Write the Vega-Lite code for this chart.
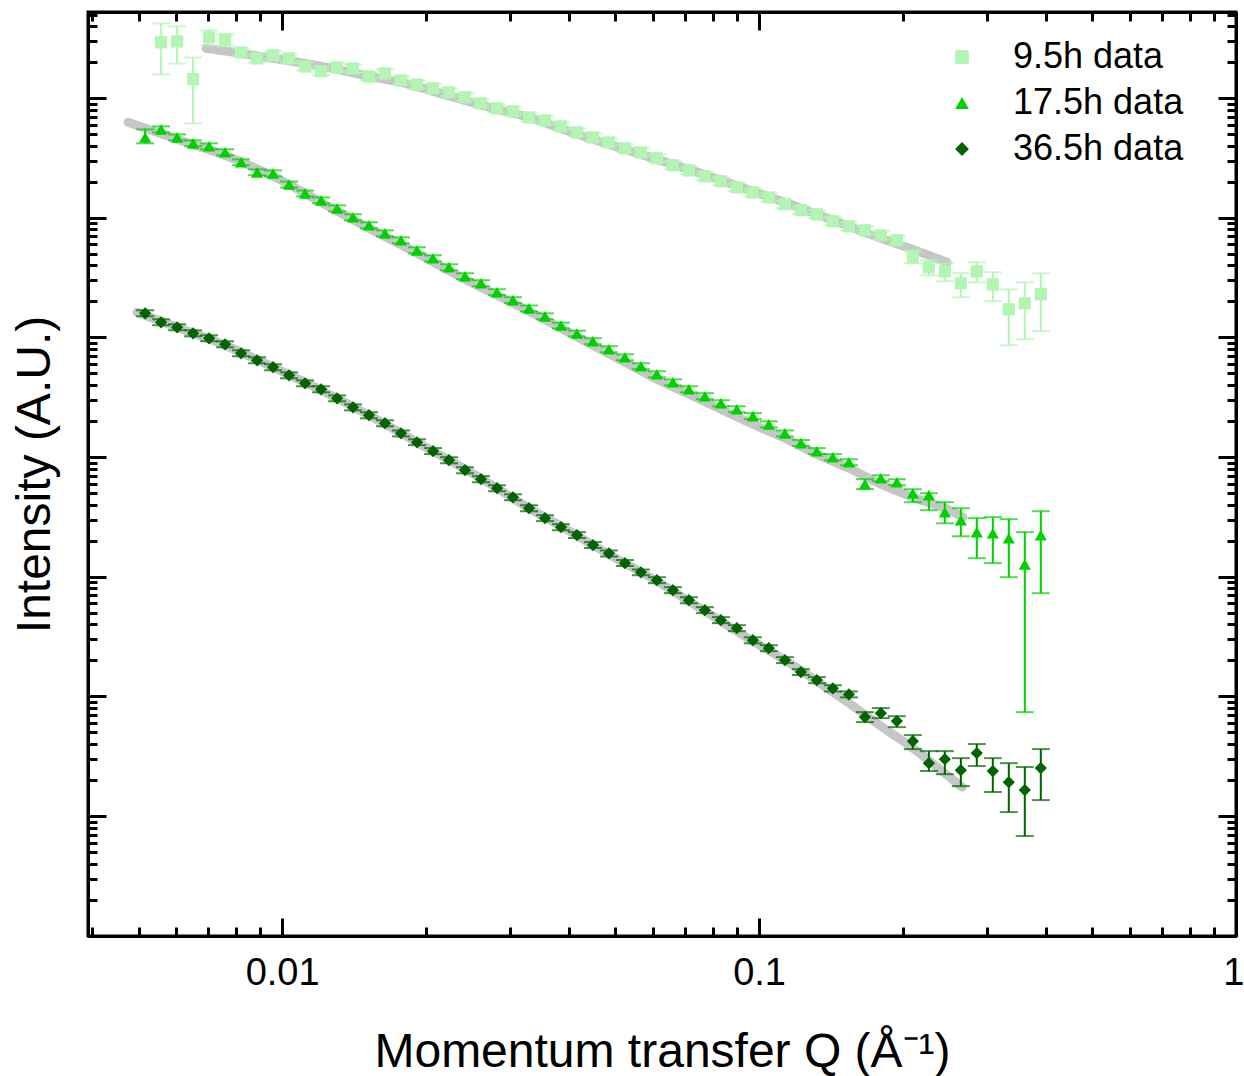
{
"$schema": "https://vega.github.io/schema/vega-lite/v6.json",
"width": 1148, "height": 924,
"autosize": {"type": "none"},
"padding": {"left": 88, "top": 12, "right": 8, "bottom": 140},
"background": "white",
"config": {
  "view": {"stroke": "black", "strokeWidth": 3},
  "font": "Liberation Sans",
  "axis": {"domainColor": "black", "domainWidth": 3, "tickColor": "black", "tickWidth": 3, "grid": false, "labelFont": "Liberation Sans", "titleFont": "Liberation Sans", "labelColor": "black", "titleColor": "black", "titleFontWeight": "normal"}
},
"datasets": {
"fit": [
{"s":"9.5h data","q":0.006929,"v":2606000},{"s":"9.5h data","q":0.008202,"v":2367000},{"s":"9.5h data","q":0.009572,"v":2150000},{"s":"9.5h data","q":0.01117,"v":1953000},{"s":"9.5h data","q":0.01304,"v":1740000},{"s":"9.5h data","q":0.01521,"v":1521000},{"s":"9.5h data","q":0.01775,"v":1355000},{"s":"9.5h data","q":0.02072,"v":1140000},{"s":"9.5h data","q":0.02418,"v":958500},{"s":"9.5h data","q":0.02822,"v":806200},{"s":"9.5h data","q":0.03293,"v":691100},{"s":"9.5h data","q":0.03843,"v":559000},{"s":"9.5h data","q":0.04484,"v":453000},{"s":"9.5h data","q":0.05233,"v":374000},{"s":"9.5h data","q":0.06107,"v":308000},{"s":"9.5h data","q":0.07127,"v":254000},{"s":"9.5h data","q":0.08317,"v":206000},{"s":"9.5h data","q":0.09706,"v":166500},{"s":"9.5h data","q":0.1133,"v":134700},{"s":"9.5h data","q":0.1322,"v":107000},{"s":"9.5h data","q":0.1543,"v":84900},{"s":"9.5h data","q":0.18,"v":67400},{"s":"9.5h data","q":0.2101,"v":54500},{"s":"9.5h data","q":0.2477,"v":42480},
{"s":"17.5h data","q":0.004753,"v":628000},{"s":"17.5h data","q":0.006023,"v":452700},{"s":"17.5h data","q":0.007593,"v":332900},{"s":"17.5h data","q":0.009572,"v":222200},{"s":"17.5h data","q":0.01207,"v":134700},{"s":"17.5h data","q":0.01521,"v":81720},{"s":"17.5h data","q":0.01918,"v":50520},{"s":"17.5h data","q":0.02418,"v":30640},{"s":"17.5h data","q":0.02822,"v":22510},{"s":"17.5h data","q":0.03293,"v":16560},{"s":"17.5h data","q":0.03843,"v":11930},{"s":"17.5h data","q":0.04484,"v":8606},{"s":"17.5h data","q":0.05233,"v":6205},{"s":"17.5h data","q":0.06107,"v":4474},{"s":"17.5h data","q":0.07127,"v":3354},{"s":"17.5h data","q":0.08317,"v":2513},{"s":"17.5h data","q":0.09706,"v":1883},{"s":"17.5h data","q":0.1133,"v":1439},{"s":"17.5h data","q":0.1322,"v":1057},{"s":"17.5h data","q":0.1543,"v":807.7},{"s":"17.5h data","q":0.18,"v":593.7},{"s":"17.5h data","q":0.2101,"v":462.4},{"s":"17.5h data","q":0.2452,"v":374.3},{"s":"17.5h data","q":0.2677,"v":314.7},
{"s":"36.5h data","q":0.004966,"v":16240},{"s":"36.5h data","q":0.006023,"v":12170},{"s":"36.5h data","q":0.007593,"v":8606},{"s":"36.5h data","q":0.009572,"v":5636},{"s":"36.5h data","q":0.01207,"v":3622},{"s":"36.5h data","q":0.01521,"v":2239},{"s":"36.5h data","q":0.01918,"v":1332},{"s":"36.5h data","q":0.02418,"v":792.2},{"s":"36.5h data","q":0.02822,"v":549.9},{"s":"36.5h data","q":0.03293,"v":374.3},{"s":"36.5h data","q":0.03843,"v":264.7},{"s":"36.5h data","q":0.04484,"v":183.7},{"s":"36.5h data","q":0.05233,"v":129.9},{"s":"36.5h data","q":0.06107,"v":91.89},{"s":"36.5h data","q":0.07127,"v":62.54},{"s":"36.5h data","q":0.08317,"v":42.57},{"s":"36.5h data","q":0.09706,"v":28.97},{"s":"36.5h data","q":0.1133,"v":20.11},{"s":"36.5h data","q":0.1322,"v":13.42},{"s":"36.5h data","q":0.1543,"v":8.79},{"s":"36.5h data","q":0.18,"v":5.648},{"s":"36.5h data","q":0.2101,"v":3.699},{"s":"36.5h data","q":0.236,"v":2.567},{"s":"36.5h data","q":0.2664,"v":1.747}
],
"pts": [
{"s":"9.5h data","q":0.005575,"v":2930000,"lo":1580000,"hi":4220000},
{"s":"9.5h data","q":0.006023,"v":2980000,"lo":1950000,"hi":3980000},
{"s":"9.5h data","q":0.006506,"v":1440000,"lo":616000,"hi":2190000},
{"s":"9.5h data","q":0.007029,"v":3220000,"lo":2760000,"hi":3690000},
{"s":"9.5h data","q":0.007593,"v":3100000,"lo":2710000,"hi":3410000},
{"s":"9.5h data","q":0.008202,"v":2410000,"lo":2230000,"hi":2600000},
{"s":"9.5h data","q":0.008861,"v":2150000,"lo":1990000,"hi":2320000},
{"s":"9.5h data","q":0.009572,"v":2280000,"lo":2110000,"hi":2460000},
{"s":"9.5h data","q":0.01034,"v":2150000,"lo":1990000,"hi":2320000},
{"s":"9.5h data","q":0.01117,"v":1840000,"lo":1700000,"hi":1990000},
{"s":"9.5h data","q":0.01207,"v":1680000,"lo":1560000,"hi":1810000},
{"s":"9.5h data","q":0.01304,"v":1810000,"lo":1680000,"hi":1950000},
{"s":"9.5h data","q":0.01408,"v":1770000,"lo":1640000,"hi":1910000},
{"s":"9.5h data","q":0.01521,"v":1520000,"lo":1410000,"hi":1640000},
{"s":"9.5h data","q":0.01643,"v":1610000,"lo":1490000,"hi":1740000},
{"s":"9.5h data","q":0.01775,"v":1410000,"lo":1310000,"hi":1520000},
{"s":"9.5h data","q":0.01918,"v":1300000,"lo":1200000,"hi":1400000},
{"s":"9.5h data","q":0.02072,"v":1210000,"lo":1120000,"hi":1310000},
{"s":"9.5h data","q":0.02238,"v":1120000,"lo":1040000,"hi":1210000},
{"s":"9.5h data","q":0.02418,"v":1020000,"lo":944000,"hi":1100000},
{"s":"9.5h data","q":0.02612,"v":905000,"lo":838000,"hi":977000},
{"s":"9.5h data","q":0.02822,"v":822000,"lo":761000,"hi":888000},
{"s":"9.5h data","q":0.03048,"v":776000,"lo":719000,"hi":838000},
{"s":"9.5h data","q":0.03293,"v":691000,"lo":640000,"hi":746000},
{"s":"9.5h data","q":0.03557,"v":652000,"lo":604000,"hi":704000},
{"s":"9.5h data","q":0.03843,"v":581000,"lo":538000,"hi":627000},
{"s":"9.5h data","q":0.04151,"v":518000,"lo":480000,"hi":559000},
{"s":"9.5h data","q":0.04484,"v":470000,"lo":435000,"hi":508000},
{"s":"9.5h data","q":0.04844,"v":427000,"lo":395000,"hi":461000},
{"s":"9.5h data","q":0.05233,"v":381000,"lo":353000,"hi":411000},
{"s":"9.5h data","q":0.05653,"v":353000,"lo":327000,"hi":381000},
{"s":"9.5h data","q":0.06107,"v":314000,"lo":291000,"hi":339000},
{"s":"9.5h data","q":0.06597,"v":275000,"lo":255000,"hi":297000},
{"s":"9.5h data","q":0.07127,"v":249000,"lo":231000,"hi":269000},
{"s":"9.5h data","q":0.07699,"v":222000,"lo":206000,"hi":240000},
{"s":"9.5h data","q":0.08317,"v":202000,"lo":187000,"hi":218000},
{"s":"9.5h data","q":0.08984,"v":180000,"lo":167000,"hi":194000},
{"s":"9.5h data","q":0.09706,"v":163000,"lo":151000,"hi":176000},
{"s":"9.5h data","q":0.1048,"v":148000,"lo":137000,"hi":160000},
{"s":"9.5h data","q":0.1133,"v":130000,"lo":120000,"hi":140000},
{"s":"9.5h data","q":0.1224,"v":116000,"lo":107000,"hi":125000},
{"s":"9.5h data","q":0.1322,"v":107000,"lo":99100,"hi":116000},
{"s":"9.5h data","q":0.1428,"v":93500,"lo":86600,"hi":101000},
{"s":"9.5h data","q":0.1543,"v":84900,"lo":78600,"hi":91700},
{"s":"9.5h data","q":0.1667,"v":78600,"lo":72800,"hi":84900},
{"s":"9.5h data","q":0.18,"v":71400,"lo":66100,"hi":77100},
{"s":"9.5h data","q":0.1945,"v":64900,"lo":60100,"hi":70100},
{"s":"9.5h data","q":0.2101,"v":46800,"lo":41700,"hi":53500},
{"s":"9.5h data","q":0.227,"v":38600,"lo":33100,"hi":44200},
{"s":"9.5h data","q":0.2452,"v":35700,"lo":29500,"hi":41700},
{"s":"9.5h data","q":0.2649,"v":28400,"lo":21700,"hi":34400},
{"s":"9.5h data","q":0.2861,"v":35700,"lo":28900,"hi":42500},
{"s":"9.5h data","q":0.3091,"v":27800,"lo":20100,"hi":35100},
{"s":"9.5h data","q":0.3339,"v":17200,"lo":8610,"hi":25300},
{"s":"9.5h data","q":0.3607,"v":19300,"lo":9660,"hi":28900},
{"s":"9.5h data","q":0.3897,"v":23000,"lo":11300,"hi":34400},
{"s":"17.5h data","q":0.005161,"v":470000,"lo":419000,"hi":549000},
{"s":"17.5h data","q":0.005575,"v":549000,"lo":518000,"hi":581000},
{"s":"17.5h data","q":0.006023,"v":470000,"lo":444000,"hi":498000},
{"s":"17.5h data","q":0.006506,"v":419000,"lo":396000,"hi":444000},
{"s":"17.5h data","q":0.007029,"v":396000,"lo":374000,"hi":419000},
{"s":"17.5h data","q":0.007593,"v":353000,"lo":333000,"hi":374000},
{"s":"17.5h data","q":0.008202,"v":291000,"lo":275000,"hi":308000},
{"s":"17.5h data","q":0.008861,"v":240000,"lo":227000,"hi":254000},
{"s":"17.5h data","q":0.009572,"v":235000,"lo":222000,"hi":249000},
{"s":"17.5h data","q":0.01034,"v":190000,"lo":179000,"hi":201000},
{"s":"17.5h data","q":0.01117,"v":160000,"lo":151000,"hi":169000},
{"s":"17.5h data","q":0.01207,"v":140000,"lo":132000,"hi":148000},
{"s":"17.5h data","q":0.01304,"v":120000,"lo":113000,"hi":127000},
{"s":"17.5h data","q":0.01408,"v":101000,"lo":95300,"hi":107000},
{"s":"17.5h data","q":0.01521,"v":86600,"lo":81700,"hi":91700},
{"s":"17.5h data","q":0.01643,"v":74200,"lo":70000,"hi":78600},
{"s":"17.5h data","q":0.01775,"v":64900,"lo":61300,"hi":68700},
{"s":"17.5h data","q":0.01918,"v":53500,"lo":50500,"hi":56700},
{"s":"17.5h data","q":0.02072,"v":45900,"lo":43300,"hi":48600},
{"s":"17.5h data","q":0.02238,"v":38600,"lo":36400,"hi":40900},
{"s":"17.5h data","q":0.02418,"v":32500,"lo":30700,"hi":34400},
{"s":"17.5h data","q":0.02612,"v":28400,"lo":26800,"hi":30100},
{"s":"17.5h data","q":0.02822,"v":23900,"lo":22600,"hi":25300},
{"s":"17.5h data","q":0.03048,"v":20500,"lo":19400,"hi":21700},
{"s":"17.5h data","q":0.03293,"v":17500,"lo":16500,"hi":18500},
{"s":"17.5h data","q":0.03557,"v":15000,"lo":14200,"hi":15900},
{"s":"17.5h data","q":0.03843,"v":12600,"lo":11900,"hi":13300},
{"s":"17.5h data","q":0.04151,"v":10800,"lo":10200,"hi":11400},
{"s":"17.5h data","q":0.04484,"v":9300,"lo":8780,"hi":9850},
{"s":"17.5h data","q":0.04844,"v":7970,"lo":7520,"hi":8440},
{"s":"17.5h data","q":0.05233,"v":6830,"lo":6450,"hi":7230},
{"s":"17.5h data","q":0.05653,"v":5750,"lo":5430,"hi":6090},
{"s":"17.5h data","q":0.06107,"v":4930,"lo":4650,"hi":5220},
{"s":"17.5h data","q":0.06597,"v":4220,"lo":3980,"hi":4470},
{"s":"17.5h data","q":0.07127,"v":3690,"lo":3480,"hi":3910},
{"s":"17.5h data","q":0.07699,"v":3230,"lo":3050,"hi":3420},
{"s":"17.5h data","q":0.08317,"v":2820,"lo":2660,"hi":2990},
{"s":"17.5h data","q":0.08984,"v":2510,"lo":2370,"hi":2660},
{"s":"17.5h data","q":0.09706,"v":2200,"lo":2080,"hi":2330},
{"s":"17.5h data","q":0.1048,"v":1880,"lo":1770,"hi":1990},
{"s":"17.5h data","q":0.1133,"v":1580,"lo":1490,"hi":1670},
{"s":"17.5h data","q":0.1224,"v":1310,"lo":1240,"hi":1390},
{"s":"17.5h data","q":0.1322,"v":1120,"lo":1060,"hi":1190},
{"s":"17.5h data","q":0.1428,"v":998,"lo":942,"hi":1060},
{"s":"17.5h data","q":0.1543,"v":907,"lo":856,"hi":960},
{"s":"17.5h data","q":0.1667,"v":594,"lo":540,"hi":654},
{"s":"17.5h data","q":0.18,"v":666,"lo":629,"hi":705},
{"s":"17.5h data","q":0.1945,"v":617,"lo":582,"hi":653},
{"s":"17.5h data","q":0.2101,"v":499,"lo":420,"hi":539},
{"s":"17.5h data","q":0.227,"v":481,"lo":360,"hi":499},
{"s":"17.5h data","q":0.2452,"v":347,"lo":280,"hi":420},
{"s":"17.5h data","q":0.2649,"v":297,"lo":218,"hi":374},
{"s":"17.5h data","q":0.2861,"v":236,"lo":143,"hi":309},
{"s":"17.5h data","q":0.3091,"v":231,"lo":130,"hi":315},
{"s":"17.5h data","q":0.3339,"v":210,"lo":99.2,"hi":303},
{"s":"17.5h data","q":0.3607,"v":127,"lo":7.39,"hi":236},
{"s":"17.5h data","q":0.3897,"v":223,"lo":72.9,"hi":353},
{"s":"36.5h data","q":0.005161,"v":15930,"lo":15040,"hi":16870},
{"s":"36.5h data","q":0.005575,"v":13400,"lo":12650,"hi":14190},
{"s":"36.5h data","q":0.006023,"v":12170,"lo":11490,"hi":12890},
{"s":"36.5h data","q":0.006506,"v":10840,"lo":10230,"hi":11480},
{"s":"36.5h data","q":0.007029,"v":9850,"lo":9300,"hi":10430},
{"s":"36.5h data","q":0.007593,"v":8770,"lo":8280,"hi":9290},
{"s":"36.5h data","q":0.008202,"v":7380,"lo":6970,"hi":7820},
{"s":"36.5h data","q":0.008861,"v":6450,"lo":6090,"hi":6830},
{"s":"36.5h data","q":0.009572,"v":5640,"lo":5320,"hi":5970},
{"s":"36.5h data","q":0.01034,"v":4830,"lo":4560,"hi":5110},
{"s":"36.5h data","q":0.01117,"v":4140,"lo":3910,"hi":4380},
{"s":"36.5h data","q":0.01207,"v":3690,"lo":3480,"hi":3910},
{"s":"36.5h data","q":0.01304,"v":3100,"lo":2930,"hi":3280},
{"s":"36.5h data","q":0.01408,"v":2610,"lo":2460,"hi":2760},
{"s":"36.5h data","q":0.01521,"v":2240,"lo":2110,"hi":2370},
{"s":"36.5h data","q":0.01643,"v":1920,"lo":1810,"hi":2030},
{"s":"36.5h data","q":0.01775,"v":1580,"lo":1490,"hi":1670},
{"s":"36.5h data","q":0.01918,"v":1330,"lo":1260,"hi":1410},
{"s":"36.5h data","q":0.02072,"v":1120,"lo":1060,"hi":1190},
{"s":"36.5h data","q":0.02238,"v":942,"lo":889,"hi":998},
{"s":"36.5h data","q":0.02418,"v":777,"lo":733,"hi":823},
{"s":"36.5h data","q":0.02612,"v":654,"lo":617,"hi":693},
{"s":"36.5h data","q":0.02822,"v":550,"lo":519,"hi":582},
{"s":"36.5h data","q":0.03048,"v":462,"lo":436,"hi":489},
{"s":"36.5h data","q":0.03293,"v":374,"lo":353,"hi":396},
{"s":"36.5h data","q":0.03557,"v":309,"lo":292,"hi":327},
{"s":"36.5h data","q":0.03843,"v":260,"lo":245,"hi":275},
{"s":"36.5h data","q":0.04151,"v":223,"lo":211,"hi":236},
{"s":"36.5h data","q":0.04484,"v":184,"lo":174,"hi":195},
{"s":"36.5h data","q":0.04844,"v":157,"lo":148,"hi":166},
{"s":"36.5h data","q":0.05233,"v":130,"lo":123,"hi":138},
{"s":"36.5h data","q":0.05653,"v":109,"lo":103,"hi":115},
{"s":"36.5h data","q":0.06107,"v":93.7,"lo":88.5,"hi":99.2},
{"s":"36.5h data","q":0.06597,"v":77.3,"lo":73,"hi":81.9},
{"s":"36.5h data","q":0.07127,"v":63.7,"lo":60.1,"hi":67.5},
{"s":"36.5h data","q":0.07699,"v":52.6,"lo":49.7,"hi":55.7},
{"s":"36.5h data","q":0.08317,"v":43.4,"lo":41,"hi":46},
{"s":"36.5h data","q":0.08984,"v":37.2,"lo":35.1,"hi":39.4},
{"s":"36.5h data","q":0.09706,"v":29.5,"lo":27.8,"hi":31.2},
{"s":"36.5h data","q":0.1048,"v":25.3,"lo":23.9,"hi":26.8},
{"s":"36.5h data","q":0.1133,"v":20.1,"lo":19,"hi":21.3},
{"s":"36.5h data","q":0.1224,"v":16,"lo":15.1,"hi":16.9},
{"s":"36.5h data","q":0.1322,"v":13.7,"lo":12.9,"hi":14.5},
{"s":"36.5h data","q":0.1428,"v":11.7,"lo":11,"hi":12.4},
{"s":"36.5h data","q":0.1543,"v":10.4,"lo":9.82,"hi":11},
{"s":"36.5h data","q":0.1667,"v":6.72,"lo":6.1,"hi":7.39},
{"s":"36.5h data","q":0.18,"v":7.25,"lo":6.59,"hi":7.99},
{"s":"36.5h data","q":0.1945,"v":6.22,"lo":5.54,"hi":6.84},
{"s":"36.5h data","q":0.2101,"v":4.23,"lo":3.63,"hi":4.75},
{"s":"36.5h data","q":0.227,"v":2.77,"lo":2.38,"hi":3.49},
{"s":"36.5h data","q":0.2452,"v":2.99,"lo":2.24,"hi":3.49},
{"s":"36.5h data","q":0.2649,"v":2.42,"lo":1.78,"hi":3.05},
{"s":"36.5h data","q":0.2861,"v":3.36,"lo":2.62,"hi":4},
{"s":"36.5h data","q":0.3091,"v":2.38,"lo":1.59,"hi":3.05},
{"s":"36.5h data","q":0.3339,"v":1.92,"lo":1.08,"hi":2.77},
{"s":"36.5h data","q":0.3607,"v":1.65,"lo":0.681,"hi":2.57},
{"s":"36.5h data","q":0.3897,"v":2.52,"lo":1.36,"hi":3.63}
]
},
"layer": [
{
 "data": {"name": "fit"},
 "mark": {"type": "line", "color": "#c6c6c6", "strokeWidth": 9, "strokeCap": "round", "strokeJoin": "round", "interpolate": "monotone"},
 "encoding": {
  "x": {"field": "q", "type": "quantitative", "scale": {"type": "log", "domain": [0.003917, 1], "nice": false},
    "axis": {"orient": "bottom", "title": "Momentum transfer Q (Å⁻¹)", "titleFontSize": 48, "titleX": 574, "titleY": 130, "titleBaseline": "alphabetic", "titleAlign": "center",
      "values": [0.004,0.005,0.006,0.007,0.008,0.009,0.01,0.02,0.03,0.04,0.05,0.06,0.07,0.08,0.09,0.1,0.2,0.3,0.4,0.5,0.6,0.7,0.8,0.9,1],
      "labelExpr": "abs(log(datum.value)/LN10 - round(log(datum.value)/LN10)) < 0.001 ? format(datum.value, '~g') : ''",
      "labelFontSize": 38, "labelPadding": 36, "labelFlush": false, "labelOverlap": false, "labelBound": false, "labelAngle": 0,
      "labelAlign": {"condition": {"test": "datum.value > 0.99", "value": "right"}, "value": "center"},
      "labelOffset": {"condition": {"test": "datum.value > 0.99", "value": 8}, "value": 0},
      "tickSize": {"condition": {"test": "abs(log(datum.value)/LN10 - round(log(datum.value)/LN10)) < 0.001", "value": -18}, "value": -9}}},
  "y": {"field": "v", "type": "quantitative", "scale": {"type": "log", "domain": [0.0995, 5250000], "nice": false},
    "axis": {"orient": "left", "title": "Intensity (A.U.)", "titleFontSize": 48, "titleX": -53, "titleY": 462, "titleAngle": -90, "titleBaseline": "middle", "titleAlign": "center", "labels": false,
      "values": [0.2,0.3,0.4,0.5,0.6,0.7,0.8,0.9,1,2,3,4,5,6,7,8,9,10,20,30,40,50,60,70,80,90,100,200,300,400,500,600,700,800,900,1000,2000,3000,4000,5000,6000,7000,8000,9000,10000,20000,30000,40000,50000,60000,70000,80000,90000,100000,200000,300000,400000,500000,600000,700000,800000,900000,1000000,2000000,3000000,4000000,5000000],
      "tickSize": {"condition": {"test": "abs(log(datum.value)/LN10 - round(log(datum.value)/LN10)) < 0.001", "value": -18}, "value": -9}}},
  "detail": {"field": "s", "type": "nominal"}
 }
},
{
 "data": {"name": "pts"},
 "mark": {"type": "rule", "strokeWidth": 2},
 "encoding": {
  "x": {"field": "q", "type": "quantitative",
    "axis": {"orient": "top", "title": null, "labels": false,
      "values": [0.004,0.005,0.006,0.007,0.008,0.009,0.01,0.02,0.03,0.04,0.05,0.06,0.07,0.08,0.09,0.1,0.2,0.3,0.4,0.5,0.6,0.7,0.8,0.9,1],
      "tickSize": {"condition": {"test": "abs(log(datum.value)/LN10 - round(log(datum.value)/LN10)) < 0.001", "value": -18}, "value": -9}}},
  "y": {"field": "lo", "type": "quantitative",
    "axis": {"orient": "right", "title": null, "labels": false,
      "values": [0.2,0.3,0.4,0.5,0.6,0.7,0.8,0.9,1,2,3,4,5,6,7,8,9,10,20,30,40,50,60,70,80,90,100,200,300,400,500,600,700,800,900,1000,2000,3000,4000,5000,6000,7000,8000,9000,10000,20000,30000,40000,50000,60000,70000,80000,90000,100000,200000,300000,400000,500000,600000,700000,800000,900000,1000000,2000000,3000000,4000000,5000000],
      "tickSize": {"condition": {"test": "abs(log(datum.value)/LN10 - round(log(datum.value)/LN10)) < 0.001", "value": -18}, "value": -9}}},
  "y2": {"field": "hi"},
  "stroke": {"condition": [{"test": "datum.s === '9.5h data'", "value": "#b3f5b3"}, {"test": "datum.s === '17.5h data'", "value": "#00d200"}], "value": "#006400"}
 }
},
{
 "data": {"name": "pts"},
 "mark": {"type": "tick", "orient": "horizontal", "size": 18, "thickness": 2},
 "encoding": {
  "x": {"field": "q", "type": "quantitative", "axis": null},
  "y": {"field": "lo", "type": "quantitative", "axis": null},
  "fill": {"condition": [{"test": "datum.s === '9.5h data'", "value": "#b3f5b3"}, {"test": "datum.s === '17.5h data'", "value": "#00d200"}], "value": "#006400"}
 }
},
{
 "data": {"name": "pts"},
 "mark": {"type": "tick", "orient": "horizontal", "size": 18, "thickness": 2},
 "encoding": {
  "x": {"field": "q", "type": "quantitative", "axis": null},
  "y": {"field": "hi", "type": "quantitative", "axis": null},
  "fill": {"condition": [{"test": "datum.s === '9.5h data'", "value": "#b3f5b3"}, {"test": "datum.s === '17.5h data'", "value": "#00d200"}], "value": "#006400"}
 }
},
{
 "data": {"name": "pts"},
 "mark": {"type": "point", "filled": true, "opacity": 1, "size": 150},
 "encoding": {
  "x": {"field": "q", "type": "quantitative", "axis": null},
  "y": {"field": "v", "type": "quantitative", "axis": null},
  "color": {"field": "s", "type": "nominal", "scale": {"domain": ["9.5h data", "17.5h data", "36.5h data"], "range": ["#b3f5b3", "#00d200", "#006400"]},
    "legend": {"orient": "none", "legendX": 856, "legendY": 27, "title": null, "labelFontSize": 36, "labelFont": "Liberation Sans", "labelColor": "black", "labelLimit": 500, "symbolSize": 190, "rowPadding": 10, "labelOffset": 33, "padding": 0, "symbolStrokeWidth": 0}},
  "shape": {"field": "s", "type": "nominal", "scale": {"domain": ["9.5h data", "17.5h data", "36.5h data"], "range": ["square", "triangle-up", "diamond"]}}
 }
}
],
"resolve": {"axis": {"x": "independent", "y": "independent"}}
}
